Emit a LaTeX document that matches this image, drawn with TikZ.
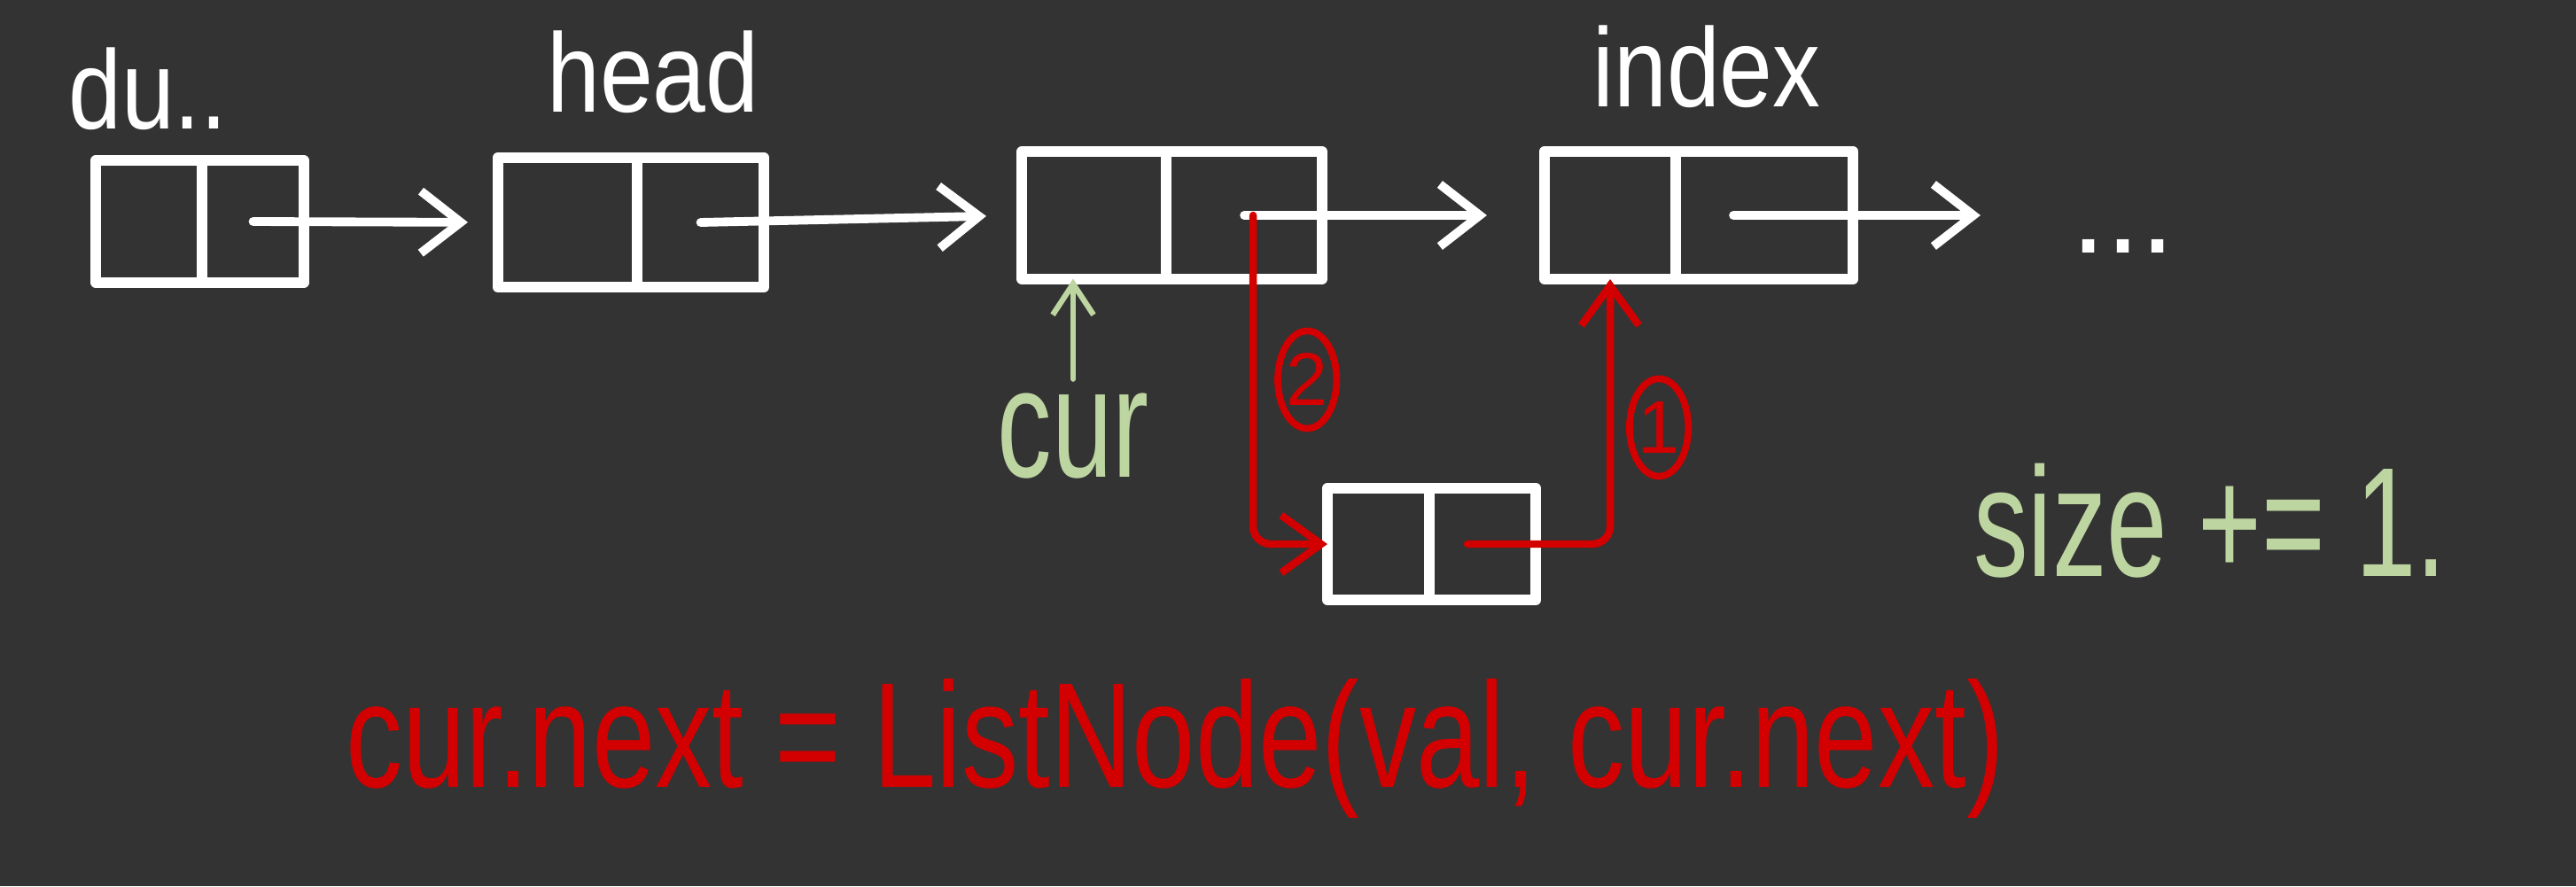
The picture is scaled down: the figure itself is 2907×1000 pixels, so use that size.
\documentclass[tikz,border=0pt]{standalone}
\usepackage{fontspec}
\setmainfont{Liberation Sans}
\usetikzlibrary{positioning, arrows.meta, shapes.geometric}

\definecolor{board}{HTML}{333333}
\definecolor{chalkred}{HTML}{D20000}
\definecolor{chalkgreen}{HTML}{BDD5A0}

\begin{document}
\begin{tikzpicture}[
    x=0.01cm, y=-0.01cm,
    cell/.style 2 args={rectangle, draw=white, line width=3.4pt, line join=round,
        outer sep=0pt, inner sep=0pt, minimum width=#1, minimum height=#2},
    link/.style={draw=white, line width=2.8pt, line cap=round,
        -{Straight Barb[length=4.5mm, width=7mm]}},
    redlink/.style={draw=chalkred, line width=2.4pt, line cap=round, line join=round,
        rounded corners=2mm, -{Straight Barb[length=4.5mm, width=6.5mm]}},
    curptr/.style={draw=chalkgreen, line width=1.8pt, line cap=round,
        -{Straight Barb[length=3.5mm, width=4.6mm]}},
    tag/.style={text=white, font=\fontsize{36}{36}\selectfont, xscale=0.85,
        anchor=base, inner sep=1pt},
    note/.style={text=chalkgreen, font=\fontsize{50}{50}\selectfont, xscale=0.7,
        anchor=base, inner sep=1.5mm},
    codeline/.style={text=chalkred, font=\fontsize{48}{48}\selectfont, xscale=0.76,
        anchor=base},
    stepno/.style={ellipse, draw=chalkred, line width=2.2pt, text=chalkred,
        font=\fontsize{24}{24}\selectfont, minimum width=5.5mm, minimum height=11mm,
        inner sep=0pt},
]

\useasboundingbox (0,0) rectangle (2907,1000);
\fill[board] (0,0) rectangle (2907,1000);

% the list
\node[cell={12mm}{13.7mm}] (du) at (168,250) {};
\node[cell={11.5mm}{13.7mm}, right=0pt of du] (duN) {};

\node[cell={15.7mm}{14.6mm}] (hd) at (640.5,251) {};
\node[cell={14.3mm}{14.6mm}, right=0pt of hd] (hdN) {};

\node[cell={16.3mm}{14.3mm}] (cur) at (1234.5,243) {};
\node[cell={17.6mm}{14.3mm}, right=0pt of cur] (curN) {};

\node[cell={14.8mm}{14.4mm}] (idx) at (1817,243) {};
\node[cell={20mm}{14.4mm}, right=0pt of idx] (idxN) {};

\node[text=white, font=\fontsize{40}{40}\selectfont, anchor=base west] (more) at (2325,285) {...};

% the new node
\node[cell={11.5mm}{12.6mm}] (ins) at (1555.5,614) {};
\node[cell={12mm}{12.6mm}, right=0pt of ins] (insN) {};

% labels
\node[tag] (duLbl) at (167,145) {du..};
\node[tag] (headLbl) at (737,126) {head};
\node[tag] (idxLbl) at (1926,120) {index};
\node[note] (curLbl) at (1211,538) {cur};
\node[note] (sizeLbl) at (2494,650) {size += 1.};
\node[codeline] (codeLbl) at (1326,888) {cur.next = ListNode(val, cur.next)};

% next pointers
\draw[link, shorten >=3.4mm] (duN.center) -- (hd.west);
\draw[link, shorten >=4mm] (hdN.center) -- (cur.west);
\draw[link, shorten >=6.5mm] (curN.center) -- (idx.west);
\draw[link, shorten >=9mm] ([xshift=-3.5mm]idxN.center) -- (idxN -| more.west);

\draw[curptr] (curLbl.north) -- (curLbl.north |- cur.south);

% insertion steps
\draw[redlink] ([xshift=-1.7mm]insN.center) -| (idx.south)
    node[stepno, pos=0.72, right=1.8mm] (one) {1};
\draw[redlink] ([xshift=1mm]curN.center) |- (ins.west)
    node[stepno, pos=0.25, right=2.4mm] (two) {2};

\end{tikzpicture}
\end{document}
